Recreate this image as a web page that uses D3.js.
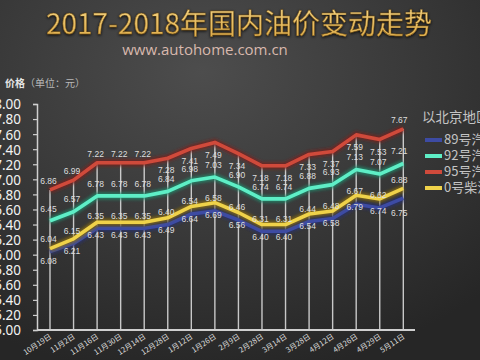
<!DOCTYPE html>
<html lang="zh">
<head>
  <meta charset="UTF-8">
  <title>2017-2018年国内油价变动走势</title>
  <script src="https://d3js.org/d3.v7.min.js"></script>
  <style>
    body { margin: 0; background: #2a2a2a; }
    svg { display: block; }
    .ylab { font-family: "Noto Sans", sans-serif; font-size: 13.5px; fill: #f2f2f2; }
    .xlab { font-family: "Noto Sans CJK SC", sans-serif; font-size: 7.5px; fill: #dcdcdc; }
    .val { font-family: "Liberation Sans", sans-serif; font-size: 8.5px; fill: #dedede; }
    .legend { font-family: "Noto Sans CJK SC", sans-serif; fill: #c4c4c4; }
  </style>
</head>
<body>
  <svg id="chart" width="480" height="360"></svg>
  <script>
    // values (Beijing prices, yuan)
    const dates = ['10月19日', '11月2日', '11月16日', '11月30日', '12月14日', '12月28日', '1月12日', '1月26日',
      '2月9日', '2月28日', '3月14日', '3月28日', '4月12日', '4月26日', '4月29日', '5月11日'];
    const p95 = [6.86, 6.99, 7.22, 7.22, 7.22, 7.28, 7.41, 7.49, 7.34, 7.18, 7.18, 7.33, 7.37, 7.59, 7.53, 7.67];
    const p92 = [6.45, 6.57, 6.78, 6.78, 6.78, 6.84, 6.98, 7.03, 6.90, 6.74, 6.74, 6.88, 6.93, 7.13, 7.07, 7.21];
    const p89 = [6.04, 6.15, 6.35, 6.35, 6.35, 6.40, 6.54, 6.58, 6.46, 6.31, 6.31, 6.44, 6.48, 6.67, 6.62, 6.75];
    const p0 = [6.08, 6.21, 6.43, 6.43, 6.43, 6.49, 6.64, 6.69, 6.56, 6.40, 6.40, 6.54, 6.58, 6.79, 6.74, 6.88];
    const yTicks = [5.0, 5.2, 5.4, 5.6, 5.8, 6.0, 6.2, 6.4, 6.6, 6.8, 7.0, 7.2, 7.4, 7.6, 7.8, 8.0];

    const series = [
      { key: '89', name: '89号汽油', values: p89, color: '#3d4ba3', glow: '#27306e' },
      { key: '92', name: '92号汽油', values: p92, color: '#5eeec6', glow: '#1f8a6c' },
      { key: '95', name: '95号汽油', values: p95, color: '#cf4a3b', glow: '#7a2218' },
      { key: '0', name: '0号柴油', values: p0, color: '#efd24a', glow: '#8a6d10' }
    ];

    const svg = d3.select('#chart');
    const defs = svg.append('defs');

    // background: dark gray, lighter up top
    const bg = defs.append('radialGradient').attr('id', 'bg')
      .attr('cx', '0.42').attr('cy', '0.2').attr('r', '0.85');
    bg.append('stop').attr('offset', '0').attr('stop-color', '#4d4d4d');
    bg.append('stop').attr('offset', '0.6').attr('stop-color', '#363636');
    bg.append('stop').attr('offset', '1').attr('stop-color', '#262626');
    svg.append('rect').attr('width', 480).attr('height', 360).attr('fill', 'url(#bg)');

    const gold = defs.append('linearGradient').attr('id', 'gold')
      .attr('x1', 0).attr('y1', 0).attr('x2', 0).attr('y2', 1);
    gold.append('stop').attr('offset', '0').attr('stop-color', '#f6d88a');
    gold.append('stop').attr('offset', '1').attr('stop-color', '#dca843');

    const shadow = defs.append('filter').attr('id', 'shadow')
      .attr('x', '-10%').attr('y', '-30%').attr('width', '120%').attr('height', '160%');
    shadow.append('feDropShadow').attr('dx', 0).attr('dy', 1)
      .attr('stdDeviation', 1.6).attr('flood-color', '#000').attr('flood-opacity', 0.9);

    const glow = defs.append('filter').attr('id', 'glow')
      .attr('x', '-5%').attr('y', '-20%').attr('width', '110%').attr('height', '140%');
    glow.append('feGaussianBlur').attr('stdDeviation', 1.6);

    // title + site
    svg.append('text')
      .attr('x', 239).attr('y', 34)
      .attr('text-anchor', 'middle')
      .attr('font-family', '"Noto Sans CJK SC", sans-serif')
      .attr('font-size', 28)
      .attr('fill', 'url(#gold)')
      .attr('stroke', '#6b4a12').attr('stroke-width', 0.4)
      .attr('filter', 'url(#shadow)')
      .text('2017-2018年国内油价变动走势');

    svg.append('text')
      .attr('x', 205).attr('y', 55)
      .attr('text-anchor', 'middle')
      .attr('font-family', '"Open Sans", sans-serif')
      .attr('font-size', 15)
      .attr('fill', '#d8b8ad')
      .text('www.autohome.com.cn');

    const unit = svg.append('text')
      .attr('x', 5).attr('y', 87)
      .attr('font-family', '"Noto Sans CJK SC", sans-serif')
      .attr('font-size', 10);
    unit.append('tspan').attr('fill', '#e6e6e6').attr('font-weight', 'bold').text('价格');
    unit.append('tspan').attr('fill', '#b8b8b8').text('（单位：元）');

    // scales
    const x = d3.scalePoint().domain(dates).range([50, 403.3]);
    const y = d3.scaleLinear().domain([5, 8]).range([330, 104]);

    // y axis
    const yAxis = svg.append('g')
      .attr('transform', 'translate(37,0)')
      .call(d3.axisLeft(y).tickValues(yTicks).tickSize(4).tickPadding(12).tickFormat(d3.format('.2f')));
    yAxis.select('.domain').attr('stroke', '#cfcfcf').attr('stroke-width', 1.5);
    yAxis.selectAll('.tick line').attr('stroke', '#cfcfcf').attr('stroke-width', 1.2);
    yAxis.selectAll('.tick text').attr('class', 'ylab').attr('dy', '0.36em').attr('fill', null);
    yAxis.attr('font-family', null).attr('font-size', null);

    // drop lines from top series down to the axis
    svg.append('g')
      .selectAll('line')
      .data(dates)
      .enter()
      .append('line')
      .attr('x1', (d) => x(d)).attr('x2', (d) => x(d))
      .attr('y1', (d, i) => y(p95[i])).attr('y2', y(5))
      .attr('stroke', '#e4e4e4').attr('stroke-opacity', 0.85).attr('stroke-width', 1.4);

    // x axis line
    svg.append('line')
      .attr('x1', 37).attr('x2', 415).attr('y1', y(5)).attr('y2', y(5))
      .attr('stroke', '#cfcfcf').attr('stroke-width', 2);

    svg.append('g')
      .selectAll('text')
      .data(dates)
      .enter()
      .append('text')
      .attr('class', 'xlab')
      .attr('text-anchor', 'end')
      .attr('transform', (d) => `translate(${x(d) + 2},${y(5) + 8}) rotate(-33)`)
      .text((d) => d);

    // lines
    const line = d3.line()
      .x((d, i) => x(dates[i]))
      .y((d) => y(d));

    const lines = svg.append('g');
    series.forEach((s) => {
      lines.append('path')
        .datum(s.values)
        .attr('d', line)
        .attr('fill', 'none')
        .attr('stroke', s.glow).attr('stroke-width', 7).attr('stroke-opacity', 0.8)
        .attr('filter', 'url(#glow)');
      lines.append('path')
        .datum(s.values)
        .attr('d', line)
        .attr('fill', 'none')
        .attr('stroke', s.color).attr('stroke-width', 3.6)
        .attr('stroke-linejoin', 'round');
    });

    // data labels were placed by hand in the original, so they follow a few rules
    const labelDy = (key, i) => {
      const last = i === dates.length - 1;
      if (key === '95') return (i < 5 || last) ? -8 : 13;
      if (key === '92') return -11.5;
      if (key === '89') return last ? 16 : -12;
      return last ? -8 : 13;
    };

    series.forEach((s) => {
      svg.append('g')
        .selectAll('text')
        .data(s.values)
        .enter()
        .append('text')
        .attr('class', 'val')
        .attr('text-anchor', 'middle')
        .attr('dominant-baseline', 'middle')
        .attr('x', (d, i) => x(dates[i]) - (i === dates.length - 1 ? 4 : 1.5))
        .attr('y', (d, i) => y(d) + labelDy(s.key, i))
        .text((d) => d.toFixed(2));
    });

    // legend (runs off the right edge like the original)
    svg.append('text')
      .attr('class', 'legend')
      .attr('x', 422).attr('y', 118)
      .attr('dominant-baseline', 'middle')
      .attr('font-size', 13.5)
      .text('以北京地区');

    const legend = svg.append('g')
      .selectAll('g')
      .data(series)
      .enter()
      .append('g')
      .attr('transform', (d, i) => `translate(425,${140 + i * 16})`);
    legend.append('line')
      .attr('x1', 0).attr('x2', 17)
      .attr('stroke', (d) => d.color).attr('stroke-width', 4);
    legend.append('text')
      .attr('class', 'legend')
      .attr('x', 19)
      .attr('dominant-baseline', 'middle')
      .attr('font-size', 13)
      .text((d) => d.name);
  </script>
</body>
</html>
